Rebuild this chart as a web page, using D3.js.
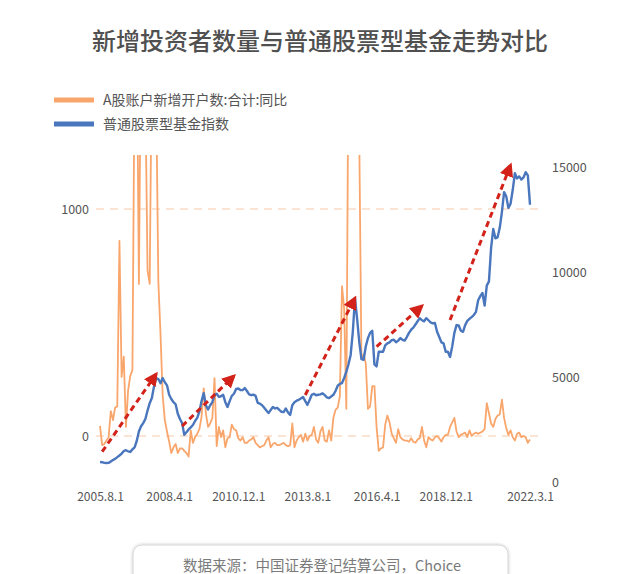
<!DOCTYPE html>
<html>
<head>
<meta charset="utf-8">
<script src="https://cdn.jsdelivr.net/npm/d3@7"></script>
<style>
  body { margin: 0; background: #fff; }
  svg { display: block; font-family: "Noto Sans CJK SC", "Noto Sans", sans-serif; }
</style>
</head>
<body>
<div class="chart"></div>
<script>
var width = 640, height = 574;

// monthly series, 2005.8 .. 2022.3
var startYear = 2005, startMonth = 8, monthCount = 200;
var months = [];
for (var k = 0; k < monthCount; k++) {
	var m = startMonth - 1 + k;
	months.push((startYear + Math.floor(m / 12)) + '.' + (m % 12 + 1) + '.1');
}

var tickLabels = ['2005.8.1', '2008.4.1', '2010.12.1', '2013.8.1', '2016.4.1', '2018.12.1', '2022.3.1'];
var leftTicks = [0, 1000];
var rightTicks = [0, 5000, 10000, 15000];

// A股账户新增开户数:合计:同比 (%)
var accountYoY = [
	45, -40, -35, -20, -5, 110, 70, 125, 130, 860,
	260, 350, 40, 200, 265, 290, 1600, 1800, 670, 1800,
	1600, 1500, 730, 670, 1700, 1900, 1500, 680, 450, 180,
	70, 20, -25, -75, -50, -35, -75, -55, -55, -65,
	-75, -90, 25, -30, -5, 10, 30, 85, 210, 100,
	40, 55, 80, 255, -45, 40, -5, 25, -50, -10,
	-5, 50, 30, 25, -10, -20, -5, -30, -30, -20,
	-15, -5, -30, -40, -50, -45, -40, -20, -5, -50,
	-35, -30, -40, -40, -35, -30, -40, -45, -40, 55,
	-50, -20, -5, 5, -25, 10, -20, 0, 5, 40,
	-15, -30, 20, 40, -20, -25, 25, -20, 80, 115,
	125, 175, 660, 560, 120, 1700, 2500, 2000, 1800, 1500,
	1300, 340, 360, 320, 120, 130, 220, 220, 40, -65,
	-55, -50, 50, 90, 60, 10, -10, -30, 30, -5,
	-15, -20, -20, -25, -10, -25, -30, -15, -10, 40,
	-20, -50, -5, -15, -20, -5, 0, -10, -25, -5,
	5, 5, 40, 60, 80, 20, -5, 5, 10, 15,
	-5, 25, 0, 10, 15, 10, 15, 20, 30, 145,
	100, 55, 40, 75, 90, 95, 160, 80, 35, 5,
	25, -5, -20, 10, 15, -5, 0, -5, -30, -15
];

// 普通股票型基金指数
var fundIndex = [
	1000, 990, 960, 950, 960, 1020, 1095, 1150, 1230, 1310,
	1400, 1520, 1560, 1510, 1480, 1600, 1700, 2000, 2450, 2700,
	2850, 3050, 3450, 3800, 4050, 4600, 5000, 4950, 4750, 5000,
	4800, 4650, 4200, 4000, 3850, 3750, 3300, 3050, 2850, 2300,
	2420, 2550, 2650, 2760, 2950, 3100, 3400, 3900, 4280, 3700,
	3500, 3700, 3850, 4200, 4250, 4100, 4130, 4200, 3850, 3620,
	3900, 4150, 4250, 4480, 4500, 4430, 4420, 4520, 4380, 4220,
	4180, 4210, 4150, 3820, 3780, 3700, 3580, 3450, 3330, 3480,
	3620, 3550, 3580, 3480, 3390, 3380, 3550, 3360, 3240, 3700,
	3850, 3920, 3960, 4030, 4090, 3900, 3720, 3950, 4200, 4250,
	4180, 4200, 4220, 4270, 4180, 4080, 4040, 4120, 4200, 4380,
	4630, 4720, 4760, 5000, 5300, 5650, 6100, 7200, 8800, 7800,
	6700, 5900, 5870, 6500, 6900, 7150, 7250, 5650, 5550, 6250,
	6250, 6250, 6550, 6650, 6700, 6800, 6820, 6700, 6780, 6900,
	6820, 6780, 6950, 7150, 7300, 7400, 7550, 7700, 7850, 7750,
	7700, 7850, 7750, 7650, 7600, 7620, 7200, 6950, 6700, 6650,
	6250, 6250, 6000, 6500, 7150, 7520, 7500, 7250, 7200, 7520,
	7720, 7820, 7900, 8000, 8150, 8700, 8900, 9050, 8450, 9400,
	9600, 11200, 12100, 11650, 11700, 12150, 12900, 13850, 13650, 13100,
	13300, 13950, 14750, 14500, 14600, 14450, 14550, 14800, 14650, 13250
];

// red trend arrows: [from month, from index value, to month, to index value]
var trendArrows = [
	['2005.9.1', 1490, '2007.10.1', 5190],
	['2008.10.1', 2710, '2010.10.1', 5100],
	['2013.7.1', 4190, '2015.6.1', 8810],
	['2016.4.1', 6490, '2018.1.1', 8430],
	['2019.2.1', 7760, '2021.6.1', 15140]
];

var seriesNames = ['A股账户新增开户数:合计:同比', '普通股票型基金指数'];
var colors = ['#f9a66c', '#4a76bd'];

var svg = d3.select('.chart')
	.append('svg')
	.attr('width', width)
	.attr('height', height);

var plotTop = 155, plotBottom = 483, plotLeft = 95, plotRight = 540;

var x = d3.scalePoint().domain(months).range([100, 530]);
var yRight = d3.scaleLinear().domain([0, 15000]).range([483, 168]);
var yLeft = d3.scaleLinear().domain([0, 1000]).range([436, 209]);

var defs = svg.append('defs');
defs.append('clipPath').attr('id', 'plot')
	.append('rect')
	.attr('x', plotLeft).attr('y', plotTop)
	.attr('width', plotRight - plotLeft).attr('height', plotBottom - plotTop);

defs.append('marker')
	.attr('id', 'head')
	.attr('viewBox', '0 0 10 10')
	.attr('refX', 8).attr('refY', 5)
	.attr('markerUnits', 'userSpaceOnUse')
	.attr('markerWidth', 14).attr('markerHeight', 14)
	.attr('orient', 'auto')
	.append('path')
	.attr('d', 'M0,0 L10,5 L0,10 z')
	.attr('fill', '#d2221a');

var shadow = defs.append('filter').attr('id', 'shadow')
	.attr('x', '-10%').attr('y', '-50%').attr('width', '120%').attr('height', '200%');
shadow.append('feDropShadow')
	.attr('dx', 0).attr('dy', 0).attr('stdDeviation', 1.5)
	.attr('flood-color', '#000').attr('flood-opacity', 0.25);

// title
svg.append('text')
	.attr('x', 320).attr('y', 50)
	.attr('text-anchor', 'middle')
	.attr('font-size', 24)
	.attr('font-weight', 500)
	.attr('fill', '#505050')
	.text('新增投资者数量与普通股票型基金走势对比');

// legend
var legend = svg.append('g').selectAll('g')
	.data(seriesNames)
	.enter().append('g')
	.attr('transform', function(d, i) { return 'translate(54,' + (100 + i * 24) + ')'; });
legend.append('rect')
	.attr('x', 0).attr('y', -2.5)
	.attr('width', 40).attr('height', 5)
	.attr('fill', function(d, i) { return colors[i]; });
legend.append('text')
	.attr('x', 49).attr('y', 5)
	.attr('font-size', 14)
	.attr('fill', '#555')
	.text(function(d) { return d; });

// dashed grid on the left axis
svg.append('g').selectAll('line')
	.data(leftTicks)
	.enter().append('line')
	.attr('x1', 96).attr('x2', 540)
	.attr('y1', function(d) { return yLeft(d); })
	.attr('y2', function(d) { return yLeft(d); })
	.attr('stroke', '#fcdcc6')
	.attr('stroke-width', 1.5)
	.attr('stroke-dasharray', '8,6');

// axes (labels only)
var leftAxis = svg.append('g')
	.attr('transform', 'translate(89,0)')
	.call(d3.axisLeft(yLeft).tickValues(leftTicks).tickFormat(d3.format('d')).tickSize(0).tickPadding(0));
var rightAxis = svg.append('g')
	.attr('transform', 'translate(552,0)')
	.call(d3.axisRight(yRight).tickValues(rightTicks).tickFormat(d3.format('d')).tickSize(0).tickPadding(0));
var bottomAxis = svg.append('g')
	.attr('transform', 'translate(0,492)')
	.call(d3.axisBottom(x).tickValues(tickLabels).tickSize(0).tickPadding(0));

[leftAxis, rightAxis, bottomAxis].forEach(function(a) {
	a.select('.domain').remove();
	a.selectAll('text')
		.attr('font-family', '"Noto Sans CJK SC", "Noto Sans", sans-serif')
		.attr('font-size', 12.5)
		.attr('fill', '#555');
});
bottomAxis.selectAll('text').attr('font-size', 12).attr('dy', '0.71em');
rightAxis.selectAll('text').attr('dy', '0.3em');

var plot = svg.append('g').attr('clip-path', 'url(#plot)');

var lineLeft = d3.line()
	.x(function(d, i) { return x(months[i]); })
	.y(function(d) { return yLeft(d); });
var lineRight = d3.line()
	.x(function(d, i) { return x(months[i]); })
	.y(function(d) { return yRight(d); });

plot.append('path')
	.datum(accountYoY)
	.attr('d', lineLeft)
	.attr('fill', 'none')
	.attr('stroke', colors[0])
	.attr('stroke-width', 1.8)
	.attr('stroke-linejoin', 'round');

plot.append('path')
	.datum(fundIndex)
	.attr('d', lineRight)
	.attr('fill', 'none')
	.attr('stroke', colors[1])
	.attr('stroke-width', 2.4)
	.attr('stroke-linejoin', 'round');

// trend arrows
svg.append('g').selectAll('line')
	.data(trendArrows)
	.enter().append('line')
	.attr('x1', function(d) { return x(d[0]); })
	.attr('y1', function(d) { return yRight(d[1]); })
	.attr('x2', function(d) { return x(d[2]); })
	.attr('y2', function(d) { return yRight(d[3]); })
	.attr('stroke', '#d2221a')
	.attr('stroke-width', 3)
	.attr('stroke-dasharray', '6,4')
	.attr('marker-end', 'url(#head)');

// source box
svg.append('rect')
	.attr('x', 133).attr('y', 545)
	.attr('width', 375).attr('height', 60)
	.attr('rx', 9)
	.attr('fill', '#fff')
	.attr('stroke', '#d6d6d6')
	.attr('filter', 'url(#shadow)');

svg.append('text')
	.attr('x', 322).attr('y', 571)
	.attr('text-anchor', 'middle')
	.attr('font-size', 14.5)
	.attr('fill', '#7a7a7a')
	.text('数据来源：中国证券登记结算公司，Choice');
</script>
</body>
</html>
